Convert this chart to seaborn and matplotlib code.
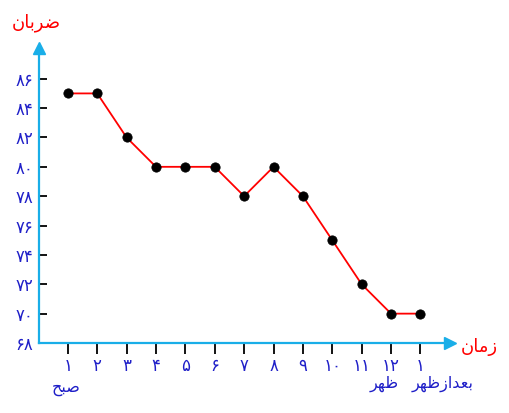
import numpy as np
import pandas as pd
import seaborn as sns
import matplotlib.pyplot as plt

# hours (1..12 morning to noon, then 1 afternoon) and pulse values
hours = [1, 2, 3, 4, 5, 6, 7, 8, 9, 10, 11, 12, 13]
pulse = [85, 85, 82, 80, 80, 80, 78, 80, 78, 75, 72, 70, 70]
x_labels = ['۱', '۲', '۳', '۴', '۵', '۶', '۷', '۸', '۹', '۱۰', '۱۱', '۱۲', '۱']
y_ticks = [68, 70, 72, 74, 76, 78, 80, 82, 84, 86]
y_labels = ['۶۸', '۷۰', '۷۲', '۷۴', '۷۶', '۷۸', '۸۰', '۸۲', '۸۴', '۸۶']

# Persian words already in shaped (presentation) form and visual order,
# matplotlib has no bidi / shaping of its own
y_title = '\uFEE5\uFE8E\uFE91\uFEAE\uFEBF'            # ضربان
x_title = '\uFEE5\uFE8E\uFEE3\uFEAF'                  # زمان
morning = '\uFEA2\uFE92\uFEBB'                        # صبح
noon = '\uFEAE\uFEEC\uFEC7'                           # ظهر
afternoon = '\uFEAE\uFEEC\uFEC7\uFEAF\uFE8D\uFEAA\uFECC\uFE91'  # بعدازظهر
period_labels = [(0.95, morning, -0.155), (11.75, noon, -0.14), (13.75, afternoon, -0.14)]

df = pd.DataFrame({'hour': hours, 'pulse': pulse})

sns.set_style('white')
plt.rcParams['font.family'] = ['DejaVu Sans']

axis_col = '#19aee8'
txt_blue = '#1f1fc8'

fig = plt.figure(figsize=(5.1, 4.13), dpi=100)
ax = fig.add_axes([0.0765, 0.1695, 0.8055, 0.7145])

sns.lineplot(data=df, x='hour', y='pulse', color='red', linewidth=1.3, ax=ax)
sns.scatterplot(data=df, x='hour', y='pulse', color='black', s=45,
                edgecolor='black', zorder=3, ax=ax)

ax.set_xlim(0.02, 14.0)
ax.set_ylim(68.05, 88.1)

ax.set_xticks(hours)
ax.set_xticklabels(x_labels, color=txt_blue, fontsize=12)
ax.set_yticks(y_ticks)
ax.set_yticklabels(y_labels, color=txt_blue, fontsize=12)
ax.tick_params(axis='x', bottom=True, direction='out', length=8, width=1.3,
               color='black', pad=2)
ax.tick_params(axis='y', left=True, direction='in', length=6, width=1.3,
               color='black', pad=4)
ax.set_xlabel('')
ax.set_ylabel('')

for s in ['top', 'right']:
    ax.spines[s].set_visible(False)
for s in ['left', 'bottom']:
    ax.spines[s].set_color(axis_col)
    ax.spines[s].set_linewidth(1.6)

# arrow heads at the axis ends
ax.plot(1, 0, '>', ms=9, color=axis_col, transform=ax.transAxes, clip_on=False)
ax.plot(0, 1, '^', ms=9, color=axis_col, transform=ax.transAxes, clip_on=False)

fig.text(0.072, 0.945, y_title, color='red', fontsize=13, ha='center', va='center')
fig.text(0.94, 0.16, x_title, color='red', fontsize=13, ha='center', va='center')

for xv, lab, yv in period_labels:
    ax.text(xv, yv, lab, color=txt_blue, fontsize=11.5, ha='center', va='center',
            transform=ax.get_xaxis_transform())

fig.savefig('out.png', dpi=100)
